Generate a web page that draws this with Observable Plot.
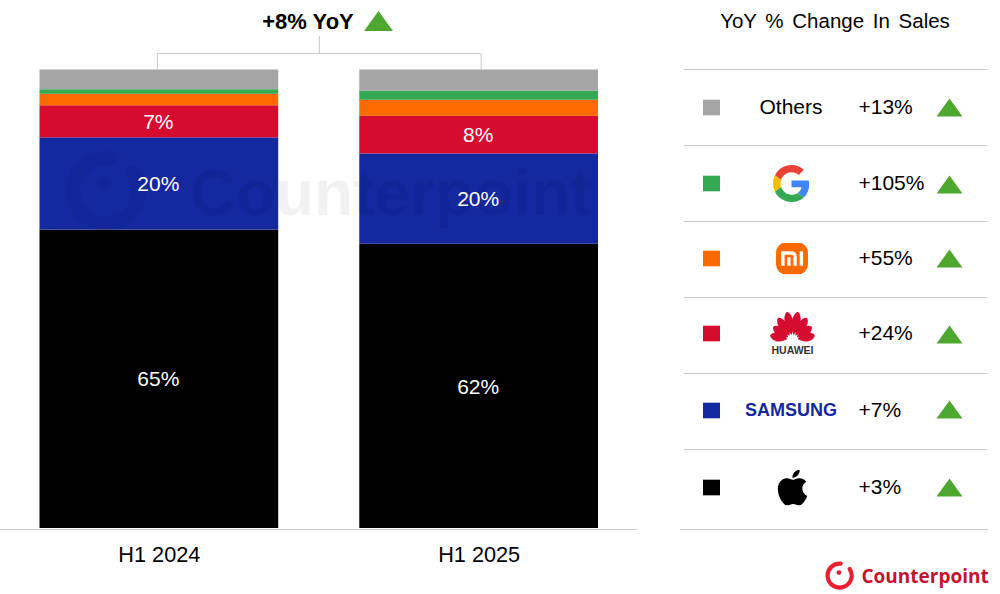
<!DOCTYPE html>
<html>
<head>
<meta charset="utf-8">
<script src="https://cdn.jsdelivr.net/npm/d3@7"></script>
<script src="https://cdn.jsdelivr.net/npm/@observablehq/plot@0.6"></script>
<style>
  body { margin: 0; background: #fff; }
  #chart { display: flex; width: 1000px; height: 594px; overflow: hidden; }
  #chart svg { display: block; }
</style>
</head>
<body>
<div id="chart"></div>
<script>
// chart values
const periods = ['H1 2024', 'H1 2025']
const stackOrder = ['Apple', 'Samsung', 'Huawei', 'Xiaomi', 'Google', 'Others']
const shares2024 = [65.1, 20.1, 7.0, 2.5, 1.0, 4.3]
const shares2025 = [62.0, 19.7, 8.2, 3.5, 2.0, 4.6]
const brandColors = ['#000000', '#1428a0', '#d50b2f', '#ff6a00', '#34a853', '#a5a5a5']
const panelRows = ['Others', 'Google', 'Xiaomi', 'Huawei', 'Samsung', 'Apple']
const yoyChanges = [13, 105, 55, 24, 7, 3]
const totalLabel = '+8% YoY'
const panelTitle = 'YoY % Change In Sales'

const green = '#4ea72e'
const ruleGrey = '#c9c9c9'
const sans = '"Liberation Sans", Arial, sans-serif'

const svgUri = s => 'data:image/svg+xml;utf8,' + encodeURIComponent(s)

// flat triangle and swatch, size comes from r in Plot.dot
const upTriangle = {
  draw(ctx, size) {
    let r = Math.sqrt(size / Math.PI)
    ctx.moveTo(0, -r * 0.69)
    ctx.lineTo(r, r * 0.69)
    ctx.lineTo(-r, r * 0.69)
    ctx.closePath()
  },
}
const swatch = {
  draw(ctx, size) {
    let r = Math.sqrt(size / Math.PI)
    ctx.rect(-r, -r * 0.92, 2 * r, 1.84 * r)
  },
}

// logos
const googleLogo = svgUri(`<svg xmlns="http://www.w3.org/2000/svg" viewBox="0 0 48 48">
<path fill="#EA4335" d="M24 9.5c3.54 0 6.71 1.22 9.21 3.6l6.85-6.85C35.9 2.38 30.47 0 24 0 14.62 0 6.51 5.38 2.56 13.22l7.98 6.19C12.43 13.72 17.74 9.5 24 9.5z"/>
<path fill="#4285F4" d="M46.98 24.55c0-1.57-.15-3.09-.38-4.55H24v9.02h12.94c-.58 2.96-2.26 5.48-4.78 7.18l7.73 6c4.51-4.18 7.09-10.36 7.09-17.65z"/>
<path fill="#FBBC05" d="M10.53 28.59c-.48-1.45-.76-2.99-.76-4.59s.27-3.14.76-4.59l-7.98-6.19C.92 16.46 0 20.12 0 24c0 3.88.92 7.54 2.56 10.78l7.97-6.19z"/>
<path fill="#34A853" d="M24 48c6.48 0 11.93-2.13 15.89-5.81l-7.73-6c-2.15 1.45-4.92 2.3-8.16 2.3-6.26 0-11.57-4.22-13.47-9.91l-7.98 6.19C6.51 42.62 14.62 48 24 48z"/>
</svg>`)

const xiaomiLogo = svgUri(`<svg xmlns="http://www.w3.org/2000/svg" viewBox="0 0 32 32">
<rect width="32" height="32" rx="10" fill="#ff6a00"/>
<g transform="translate(16 16) scale(1.2 1.3) translate(-16 -16)" fill="#fff">
<path d="M7 10.5h9a4 4 0 0 1 4 4v7h-2.8v-7a1.4 1.4 0 0 0-1.4-1.4H9.8v8.4H7z"/>
<rect x="12" y="15" width="2.8" height="6.5"/>
<rect x="22.4" y="10.5" width="2.8" height="11"/>
</g></svg>`)

const petalFan = [[-78, 30], [-55, 31], [-33, 35], [-11, 38], [11, 38], [33, 35], [55, 31], [78, 30]]
const petals = petalFan
  .map(([a, len]) => `<path transform="translate(30 39) rotate(${a})" d="M0 -7C-8 ${-len * 0.5} -7 ${-len * 0.9} 0 ${-len}C7 ${-len * 0.9} 8 ${-len * 0.5} 0 -7Z"/>`)
  .join('')
const huaweiLogo = svgUri(`<svg xmlns="http://www.w3.org/2000/svg" viewBox="0 0 60 42"><g fill="#d50b2f">${petals}</g></svg>`)

const appleLogo = svgUri(`<svg xmlns="http://www.w3.org/2000/svg" viewBox="0 0 24 24"><path d="M12.152 6.896c-.948 0-2.415-1.078-3.96-1.04-2.04.027-3.91 1.183-4.961 3.014-2.117 3.675-.546 9.103 1.519 12.09 1.013 1.454 2.208 3.09 3.792 3.039 1.52-.065 2.09-.987 3.935-.987 1.831 0 2.35.987 3.96.948 1.637-.026 2.676-1.48 3.676-2.948 1.156-1.688 1.636-3.325 1.662-3.415-.039-.013-3.182-1.221-3.22-4.857-.026-3.04 2.48-4.494 2.597-4.559-1.429-2.09-3.623-2.324-4.39-2.376-2-.156-3.675 1.09-4.61 1.09zM15.53 3.83c.843-1.012 1.4-2.427 1.245-3.83-1.207.052-2.662.805-3.532 1.818-.78.896-1.454 2.338-1.273 3.714 1.338.104 2.715-.688 3.559-1.701"/></svg>`)

const ringLogo = (color, opacity, weight) => svgUri(`<svg xmlns="http://www.w3.org/2000/svg" viewBox="0 0 50 50" opacity="${opacity}">
<path d="M27 6A20 20 0 1 0 42 15" fill="none" stroke="${color}" stroke-width="${weight}" stroke-linecap="round"/>
<circle cx="24" cy="21" r="4" fill="${color}"/></svg>`)

const panelLogos = [
  { brand: 'Google', src: googleLogo, width: 37, height: 37, dy: 0, dx: 151 },
  { brand: 'Xiaomi', src: xiaomiLogo, width: 32, height: 32, dy: -1, dx: 151.5 },
  { brand: 'Huawei', src: huaweiLogo, width: 46, height: 32, dy: -9, dx: 152 },
  { brand: 'Apple', src: appleLogo, width: 36, height: 36, dy: 0, dx: 152 },
]

const shares = periods.flatMap((period, p) =>
  stackOrder.map((brand, i) => ({
    period,
    brand,
    share: (p == 0 ? shares2024 : shares2025)[i],
  })),
)
const labelled = shares.filter(d => d.share >= 7)
const rows = panelRows.map((brand, i) => ({ brand, change: yoyChanges[i] }))

// rows in the picture are not quite evenly spaced
const textNudge = { Others: 0, Google: 0, Xiaomi: -1, Huawei: -2, Samsung: -1, Apple: 0 }
const triangleNudge = { Others: 0, Google: 1, Xiaomi: -1, Huawei: -1, Samsung: -2, Apple: 0 }

const colorScale = { domain: stackOrder, range: brandColors }
const baseStyle = { fontFamily: sans, background: 'transparent', overflow: 'visible' }

let stacked = Plot.plot({
  width: 640,
  height: 594,
  marginTop: 0,
  marginLeft: 0,
  marginRight: 0,
  marginBottom: 66,
  style: baseStyle,
  color: colorScale,
  x: {
    type: 'band',
    domain: periods,
    range: [39.5, 598],
    paddingInner: 0.2535,
    paddingOuter: 0,
    round: false,
    label: null,
  },
  y: {
    domain: [0, 100],
    range: [528, 69.5],
    axis: null,
  },
  marks: [
    Plot.barY(shares, {
      x: 'period',
      y: 'share',
      z: 'brand',
      fill: 'brand',
      order: stackOrder,
    }),
    // watermark sits over the bars
    Plot.image(['mark'], {
      src: () => ringLogo('#000', 0.04, 9),
      frameAnchor: 'top-left',
      dx: 105,
      dy: 189,
      width: 82,
      height: 82,
    }),
    Plot.text(['Counterpoint'], {
      frameAnchor: 'top-left',
      dx: 390,
      dy: 194,
      textAnchor: 'middle',
      lineAnchor: 'middle',
      fontSize: 64,
      fontWeight: 'bold',
      fill: '#000',
      fillOpacity: 0.05,
    }),
    Plot.text(labelled, Plot.stackY({
      x: 'period',
      y: 'share',
      z: 'brand',
      order: stackOrder,
      text: d => Math.round(d.share) + '%',
      fill: '#fff',
      fontSize: 21,
      dx: -1,
      dy: 0.5,
    })),
    Plot.ruleY([0], { stroke: ruleGrey, dy: 1, insetRight: 3, strokeWidth: 1.2 }),
    Plot.axisX({ tickSize: 0, tickPadding: 18, fontSize: 21.7, label: null, fill: '#000' }),
    // bracket joining the two bars
    Plot.ruleX(periods.slice(0, 1), { x: d => d, y1: 100, y2: 103.6, dx: -2, stroke: ruleGrey }),
    Plot.ruleX(periods.slice(1), { x: d => d, y1: 100, y2: 103.6, dx: 2, stroke: ruleGrey }),
    Plot.ruleY([103.6], { insetLeft: 157, insetRight: 160, stroke: ruleGrey }),
    Plot.ruleX(periods.slice(0, 1), { x: d => d, y1: 103.6, y2: 107.4, dx: 160, stroke: ruleGrey }),
    Plot.text([totalLabel], {
      frameAnchor: 'top-left',
      dx: 307.5,
      dy: 21,
      textAnchor: 'middle',
      lineAnchor: 'middle',
      fontSize: 22,
      fontWeight: 'bold',
      fill: '#000',
    }),
    Plot.dot(['up'], {
      frameAnchor: 'top-left',
      dx: 378,
      dy: 20.5,
      r: 14.5,
      symbol: upTriangle,
      fill: green,
      stroke: 'none',
    }),
  ],
})

let panel = Plot.plot({
  width: 360,
  height: 594,
  marginTop: 0,
  marginLeft: 0,
  marginRight: 0,
  marginBottom: 0,
  style: baseStyle,
  color: colorScale,
  x: { axis: null },
  y: {
    type: 'band',
    domain: panelRows,
    range: [69, 525],
    padding: 0,
    axis: null,
  },
  marks: [
    Plot.text([panelTitle], {
      frameAnchor: 'top-left',
      dx: 194.5,
      dy: 21,
      textAnchor: 'middle',
      lineAnchor: 'middle',
      fontSize: 20.5,
      fill: '#000',
    }),
    Plot.ruleY(panelRows, {
      y: d => d,
      dy: -38,
      insetLeft: 44,
      insetRight: 13,
      stroke: ruleGrey,
      strokeWidth: 1.2,
    }),
    Plot.ruleY(['Apple'], {
      y: d => d,
      dy: 42,
      insetLeft: 40,
      insetRight: 12,
      stroke: ruleGrey,
      strokeWidth: 1.2,
    }),
    Plot.text(rows.filter(d => d.brand == 'Others'), {
      y: 'brand',
      text: 'brand',
      frameAnchor: 'left',
      dx: 150.5,
      fontSize: 21,
      fill: '#000',
      textAnchor: 'middle',
    }),
    Plot.text(rows.filter(d => d.brand == 'Samsung'), {
      y: 'brand',
      text: () => 'SAMSUNG',
      frameAnchor: 'left',
      dx: 150.5,
      dy: -1,
      fontSize: 18,
      fontWeight: 'bold',
      fill: '#1428a0',
      textAnchor: 'middle',
    }),
    Plot.text(rows.filter(d => d.brand == 'Huawei'), {
      y: 'brand',
      text: () => 'HUAWEI',
      frameAnchor: 'left',
      dx: 152,
      dy: 15.5,
      fontSize: 10.5,
      fontWeight: 'bold',
      fill: '#333',
      textAnchor: 'middle',
    }),
    ...panelLogos.map(logo =>
      Plot.image([logo], {
        y: 'brand',
        src: 'src',
        frameAnchor: 'left',
        dx: logo.dx,
        dy: logo.dy,
        width: logo.width,
        height: logo.height,
      }),
    ),
    ...rows.flatMap(row => [
      Plot.dot([row], {
        y: 'brand',
        fill: 'brand',
        frameAnchor: 'left',
        dx: 71,
        dy: textNudge[row.brand],
        r: 8.5,
        symbol: swatch,
        stroke: 'none',
      }),
      Plot.text([row], {
        y: 'brand',
        text: d => '+' + d.change + '%',
        frameAnchor: 'left',
        dx: 218,
        dy: textNudge[row.brand],
        textAnchor: 'start',
        fontSize: 21,
        fill: '#000',
      }),
      Plot.dot([row], {
        y: 'brand',
        frameAnchor: 'left',
        dx: 309,
        dy: triangleNudge[row.brand],
        r: 13,
        symbol: upTriangle,
        fill: green,
        stroke: 'none',
      }),
    ]),
    // footer logo
    Plot.image(['mark'], {
      src: () => ringLogo('#e8202f', 1, 7),
      frameAnchor: 'top-left',
      dx: 199,
      dy: 574.5,
      width: 30,
      height: 30,
    }),
    Plot.text(['Counterpoint'], {
      frameAnchor: 'top-left',
      dx: 221,
      dy: 576,
      textAnchor: 'start',
      lineAnchor: 'middle',
      fontFamily: '"Open Sans"',
      fontSize: 19,
      fontWeight: 'bold',
      fill: '#c51230',
    }),
  ],
})

d3.select(panel).selectAll('text')
  .filter(function () { return this.textContent == panelTitle })
  .style('word-spacing', '3px')

d3.select('#chart').append(() => stacked)
d3.select('#chart').append(() => panel)
</script>
</body>
</html>
